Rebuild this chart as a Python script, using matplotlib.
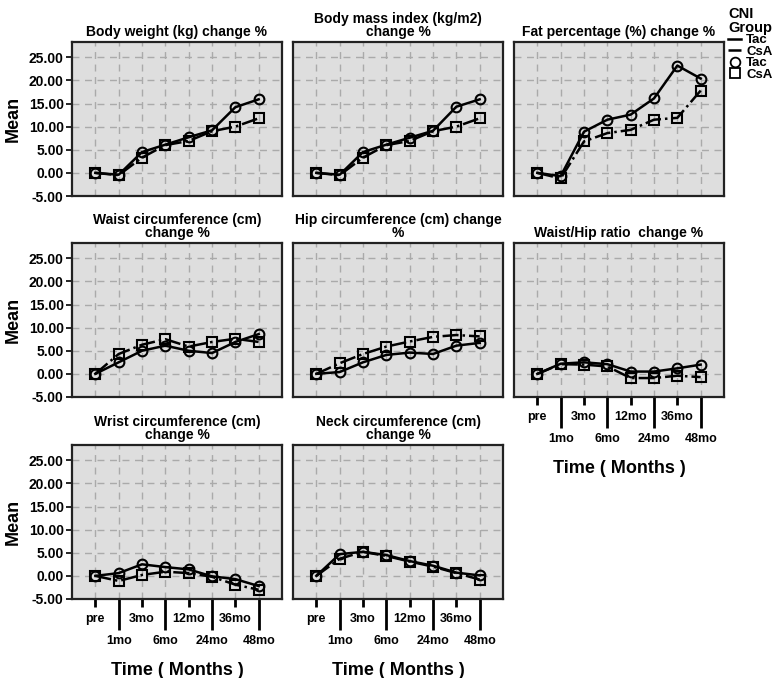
import matplotlib
matplotlib.use("Agg")
import matplotlib.pyplot as plt
from matplotlib.lines import Line2D

plt.rcParams['font.family'] = ['Liberation Sans', 'DejaVu Sans']

times = ["pre", "1mo", "3mo", "6mo", "12mo", "24mo", "36mo", "48mo"]

titles = [
    "Body weight (kg) change %",
    "Body mass index (kg/m2)\nchange %",
    "Fat percentage (%) change %",
    "Waist circumference (cm)\nchange %",
    "Hip circumference (cm) change\n%",
    "Waist/Hip ratio  change %",
    "Wrist circumference (cm)\nchange %",
    "Neck circumference (cm)\nchange %",
]

tac_weight = [0.0, -0.4, 4.5, 6.1, 7.7, 9.2, 14.2, 15.9]
csa_weight = [0.0, -0.5, 3.3, 6.0, 6.9, 9.0, 10.0, 11.8]
tac_bmi = [0.0, -0.4, 4.5, 6.1, 7.6, 9.1, 14.3, 15.9]
csa_bmi = [0.0, -0.5, 3.3, 6.0, 6.9, 9.0, 10.0, 11.8]
tac_fat = [0.0, -0.7, 8.9, 11.5, 12.6, 16.1, 23.2, 20.4]
csa_fat = [0.0, -1.2, 6.8, 8.6, 9.3, 11.5, 11.9, 17.8]
tac_waist = [0.0, 2.5, 5.0, 6.1, 5.0, 4.5, 6.9, 8.6]
csa_waist = [0.0, 4.3, 6.3, 7.5, 5.9, 6.9, 7.6, 6.9]
tac_hip = [0.0, 0.4, 2.5, 4.1, 4.6, 4.3, 6.1, 6.7]
csa_hip = [0.0, 2.3, 4.3, 5.9, 7.0, 8.0, 8.4, 8.1]
tac_whr = [0.0, 2.2, 2.5, 2.1, 0.5, 0.5, 1.2, 2.0]
csa_whr = [0.0, 2.1, 2.0, 1.6, -0.9, -0.9, -0.4, -0.7]
tac_wrist = [0.0, 0.6, 2.5, 1.9, 1.4, -0.1, -0.7, -2.2]
csa_wrist = [0.0, -1.1, 0.2, 0.9, 0.6, -0.2, -1.9, -3.0]
tac_neck = [0.0, 4.7, 5.2, 4.5, 3.2, 2.2, 0.7, 0.1]
csa_neck = [0.0, 3.7, 5.2, 4.3, 3.1, 2.0, 0.6, -0.8]

tac_all = [tac_weight, tac_bmi, tac_fat, tac_waist, tac_hip, tac_whr, tac_wrist, tac_neck]
csa_all = [csa_weight, csa_bmi, csa_fat, csa_waist, csa_hip, csa_whr, csa_wrist, csa_neck]

W, H = 777, 678
fig = plt.figure(figsize=(W / 100, H / 100), dpi=100)

col_left = [72, 293, 514]
row_top = [42, 243, 445]
aw, ah = 210, 154

x = list(range(len(times)))

for i in range(8):
    r, c = divmod(i, 3)
    ax = fig.add_axes([col_left[c] / W, 1 - (row_top[r] + ah) / H, aw / W, ah / H])
    ax.set_facecolor("#dedede")
    for s in ax.spines.values():
        s.set_linewidth(1.6)
        s.set_color("#222222")
    ax.plot(x, tac_all[i], color="black", lw=1.8, marker="o", ms=7,
            mfc="none", mec="black", mew=1.5, zorder=3)
    ax.plot(x, csa_all[i], color="black", lw=1.8, ls="-.", marker="s", ms=7,
            mfc="none", mec="black", mew=1.5, zorder=3)
    ax.set_xlim(-1, 8)
    ax.set_ylim(-5, 28.3)
    ax.set_yticks([-5, 0, 5, 10, 15, 20, 25])
    for v in [0, 5, 10, 15, 20, 25]:
        ax.axhline(v, color="#aaaaaa", lw=1, ls=(0, (5, 4)), zorder=1)
    for xi in x:
        ax.axvline(xi, color="#aaaaaa", lw=1, ls=(0, (5, 4)), zorder=1)
    ax.set_title(titles[i], fontsize=10, fontweight="bold", pad=4, linespacing=0.95)

    if c == 0:
        ax.set_yticklabels([f"{v:.2f}" for v in ax.get_yticks()], fontweight="bold", fontsize=10)
        ax.tick_params(axis="y", length=4, width=1.2, pad=2)
        ax.set_ylabel("Mean", fontsize=13, fontweight="bold", labelpad=5)
    else:
        ax.set_yticklabels([])
        ax.tick_params(axis="y", length=0)

    show_x = (r == 2) or (i == 5)
    ax.set_xticks(x[0::2])
    ax.set_xticks(x[1::2], minor=True)
    if show_x:
        ax.set_xticklabels(times[0::2], fontweight="bold", fontsize=9)
        ax.set_xticklabels(times[1::2], minor=True, fontweight="bold", fontsize=9)
        ax.tick_params(axis="x", which="major", length=6, width=2, pad=4)
        ax.tick_params(axis="x", which="minor", length=22, width=2, pad=4)
        ax.set_xlabel("Time ( Months )", fontsize=13, fontweight="bold", labelpad=11)
    else:
        ax.set_xticklabels([])
        ax.set_xticklabels([], minor=True)
        ax.tick_params(axis="x", which="both", length=0)

handles = [
    Line2D([], [], color="black", lw=1.8),
    Line2D([], [], color="black", lw=1.8, ls="-."),
    Line2D([], [], ls="none", marker="o", ms=7, mfc="none", mec="black", mew=1.3),
    Line2D([], [], ls="none", marker="s", ms=7, mfc="none", mec="black", mew=1.3),
]
leg = fig.legend(handles, ["Tac", "CsA", "Tac", "CsA"], title="CNI\nGroup",
                 loc="upper right", bbox_to_anchor=(1.0, 0.997), frameon=False,
                 prop={"weight": "bold", "size": 9.5}, handlelength=1.0,
                 handletextpad=0.35, labelspacing=-0.05, borderpad=0.25,
                 borderaxespad=0.1)
leg.get_title().set_fontweight("bold")
leg.get_title().set_fontsize(10.5)
leg.get_title().set_linespacing(1.0)

fig.savefig("out.png", dpi=100)
